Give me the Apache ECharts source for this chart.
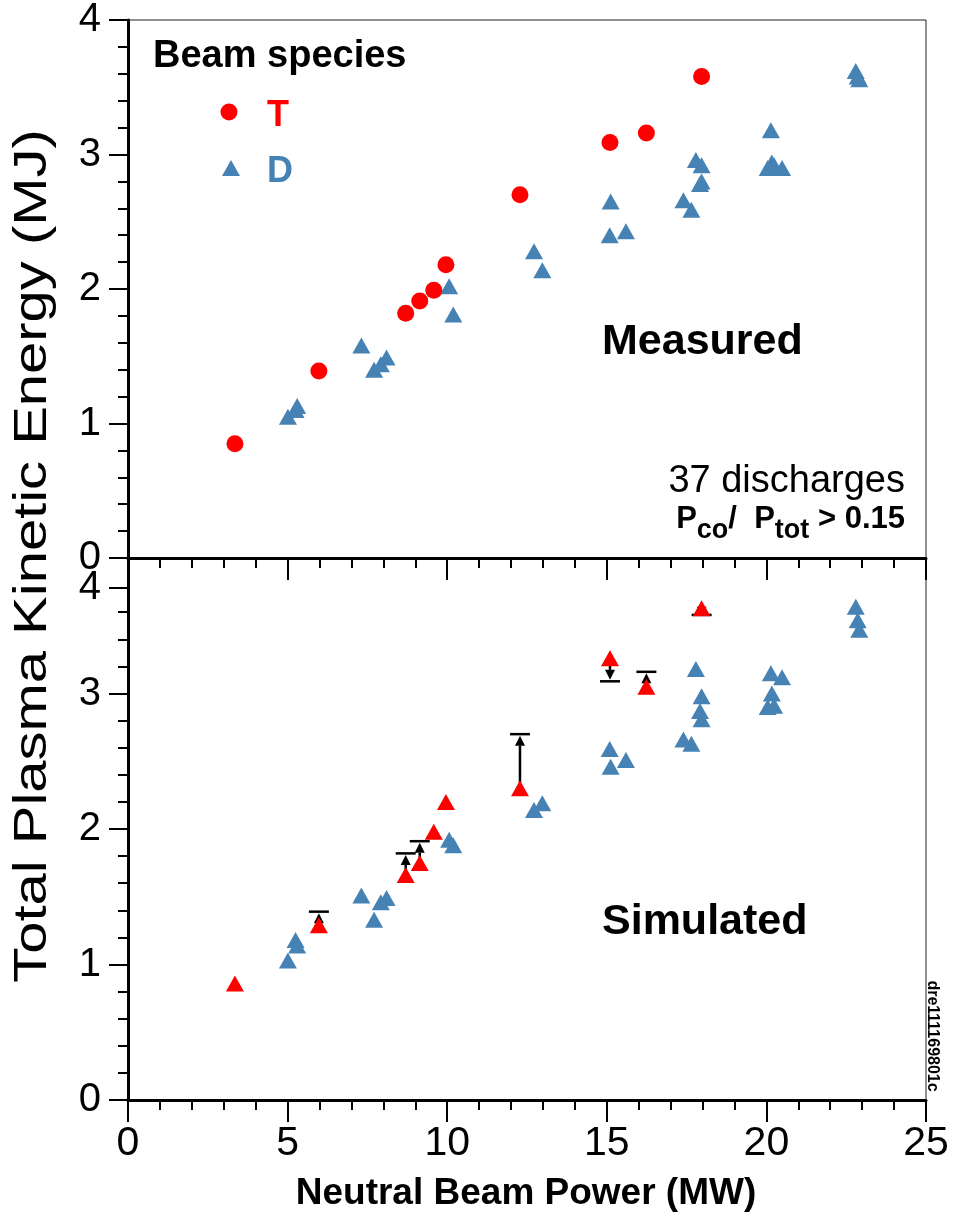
<!DOCTYPE html>
<html>
<head>
<meta charset="utf-8">
<script src="https://cdn.jsdelivr.net/npm/echarts@6/dist/echarts.min.js"></script>
<style>
  html, body { margin: 0; padding: 0; background: #fff; }
  #chart { width: 953px; height: 1221px; }
</style>
</head>
<body>
<div id="chart"></div>
<script>
// tritium beam discharges: power, measured and simulated energy
const tPower = [3.35, 5.98, 8.70, 9.14, 9.58, 9.96, 12.28, 15.10, 16.24, 17.97];
const tMeasured = [0.85, 1.39, 1.82, 1.91, 1.99, 2.18, 2.70, 3.09, 3.16, 3.58];
const tSimulated = [0.86, 1.29, 1.66, 1.75, 1.98, 2.20, 2.30, 3.26, 3.05, 3.63];

// deuterium beam discharges
const dPower = [5.01, 5.25, 5.30, 7.31, 7.71, 7.92, 8.10, 10.06, 10.19, 12.72, 12.98,
  15.09, 15.12, 15.60, 17.79, 17.97, 17.92, 17.97, 17.40, 17.65,
  20.14, 20.49, 20.17, 20.24, 20.04, 22.80, 22.86, 22.91];
const dMeasured = [1.05, 1.10, 1.13, 1.58, 1.40, 1.44, 1.49, 2.02, 1.81, 2.28, 2.14,
  2.40, 2.65, 2.43, 2.96, 2.92, 2.78, 2.80, 2.66, 2.59,
  3.18, 2.90, 2.94, 2.92, 2.90, 3.62, 3.58, 3.56];
const dSimulated = [1.03, 1.18, 1.14, 1.51, 1.33, 1.46, 1.49, 1.92, 1.88, 2.14, 2.19,
  2.59, 2.46, 2.51, 3.18, 2.98, 2.87, 2.81, 2.66, 2.63,
  3.15, 3.12, 3.00, 2.91, 2.90, 3.64, 3.54, 3.47];

// tick labels (the lower panel's "4" sits on the 3.78 tick in the original)
const lowerTickValues = [0, 1, 2, 3, 3.78];
const lowerTickLabels = ['0', '1', '2', '3', '4'];
const lowerMinorTicks = [0.2, 0.4, 0.6, 0.8, 1.2, 1.4, 1.6, 1.8, 2.2, 2.4, 2.6, 2.8, 3.2, 3.4, 3.6];

const RED = '#ff0000';
const BLUE = '#4682b4';
const FONT = '"Liberation Sans", Arial, Helvetica, sans-serif';

const chart = echarts.init(document.getElementById('chart'));

const zip = (xs, ys) => xs.map((x, i) => [x, ys[i]]);

// arrows from simulated to measured value, only where they differ
const arrowData = tPower
  .map((x, i) => [x, tSimulated[i], tMeasured[i]])
  .filter((d) => Math.abs(d[1] - d[2]) > 0.03);

const axisLineStyle = { color: '#000', width: 3 };
const tickStyle = { color: '#000', width: 2 };

const xAxisBase = {
  type: 'value',
  min: 0,
  max: 25,
  interval: 5,
  axisLine: { show: true, onZero: false, lineStyle: axisLineStyle },
  axisTick: { show: true, inside: false, length: 22, lineStyle: tickStyle },
  minorTick: { show: true, splitNumber: 5, length: 10, lineStyle: tickStyle },
  splitLine: { show: false },
};

const option = {
  animation: false,
  textStyle: { fontFamily: FONT },
  grid: [
    { left: 128, right: 27, top: 19, height: 539, show: true, borderColor: '#222', borderWidth: 1 },
    { left: 128, right: 27, top: 558, height: 542, show: true, borderColor: '#222', borderWidth: 1 },
  ],
  xAxis: [
    Object.assign({}, xAxisBase, { gridIndex: 0, axisLabel: { show: false } }),
    Object.assign({}, xAxisBase, {
      gridIndex: 1,
      axisLabel: { show: true, fontSize: 41, color: '#000', margin: 23, fontFamily: FONT },
    }),
  ],
  yAxis: [
    {
      type: 'value',
      gridIndex: 0,
      min: 0,
      max: 4,
      interval: 1,
      axisLine: { show: true, onZero: false, lineStyle: axisLineStyle },
      axisTick: { show: true, length: 19, lineStyle: tickStyle },
      minorTick: { show: true, splitNumber: 5, length: 10, lineStyle: tickStyle },
      axisLabel: { fontSize: 40, color: '#000', margin: 27, fontFamily: FONT },
      splitLine: { show: false },
    },
    {
      type: 'value',
      gridIndex: 1,
      min: 0,
      max: 4,
      axisLine: { show: true, onZero: false, lineStyle: axisLineStyle },
      axisTick: { show: true, length: 19, lineStyle: tickStyle, customValues: lowerTickValues },
      axisLabel: {
        fontSize: 40,
        color: '#000',
        margin: 27,
        fontFamily: FONT,
        customValues: lowerTickValues,
        formatter: (v) => {
          const i = lowerTickValues.findIndex((t) => Math.abs(t - v) < 1e-6);
          return i >= 0 ? lowerTickLabels[i] : '';
        },
      },
      splitLine: { show: false },
    },
    {
      type: 'value',
      gridIndex: 1,
      position: 'left',
      min: 0,
      max: 4,
      axisLine: { show: false },
      axisTick: { show: true, length: 10, lineStyle: tickStyle, customValues: lowerMinorTicks },
      axisLabel: { show: false },
      splitLine: { show: false },
    },
  ],
  series: [
    {
      name: 'D measured',
      type: 'scatter',
      xAxisIndex: 0,
      yAxisIndex: 0,
      symbol: 'triangle',
      symbolSize: [18, 16],
      itemStyle: { color: BLUE, opacity: 1 },
      data: zip(dPower, dMeasured),
    },
    {
      name: 'T measured',
      type: 'scatter',
      xAxisIndex: 0,
      yAxisIndex: 0,
      symbol: 'circle',
      symbolSize: 17,
      itemStyle: { color: RED, opacity: 1 },
      data: zip(tPower, tMeasured),
    },
    {
      name: 'D simulated',
      type: 'scatter',
      xAxisIndex: 1,
      yAxisIndex: 1,
      symbol: 'triangle',
      symbolSize: [18, 16],
      itemStyle: { color: BLUE, opacity: 1 },
      data: zip(dPower, dSimulated),
    },
    {
      name: 'T arrows',
      type: 'custom',
      xAxisIndex: 1,
      yAxisIndex: 1,
      z: 3,
      data: arrowData,
      renderItem: (params, api) => {
        const p0 = api.coord([api.value(0), api.value(1)]);
        const p1 = api.coord([api.value(0), api.value(2)]);
        const dir = p1[1] < p0[1] ? -1 : 1;
        const head = Math.min(10, Math.abs(p1[1] - p0[1]));
        const tipY = p1[1] - dir * 1.5;
        const baseY = tipY - dir * head;
        return {
          type: 'group',
          children: [
            {
              type: 'line',
              shape: { x1: p0[0], y1: p0[1], x2: p0[0], y2: baseY },
              style: { stroke: '#000', lineWidth: 2.5 },
            },
            {
              type: 'polygon',
              shape: { points: [[p1[0], tipY], [p1[0] - 5, baseY], [p1[0] + 5, baseY]] },
              style: { fill: '#000' },
            },
            {
              type: 'line',
              shape: { x1: p1[0] - 10, y1: p1[1], x2: p1[0] + 10, y2: p1[1] },
              style: { stroke: '#000', lineWidth: 2.5 },
            },
          ],
        };
      },
    },
    {
      name: 'T simulated',
      type: 'scatter',
      xAxisIndex: 1,
      yAxisIndex: 1,
      z: 4,
      symbol: 'triangle',
      symbolSize: [18, 16],
      itemStyle: { color: RED, opacity: 1 },
      data: zip(tPower, tSimulated),
    },
  ],
  graphic: [
    // y axis title, spans both panels
    {
      type: 'text',
      x: 33,
      y: 556,
      rotation: Math.PI / 2,
      scaleX: 1.26,
      style: {
        text: 'Total Plasma Kinetic Energy (MJ)',
        fontSize: 46,
        fontFamily: FONT,
        fill: '#000',
        align: 'center',
        verticalAlign: 'middle',
      },
    },
    {
      type: 'text',
      x: 526,
      y: 1194,
      style: {
        text: 'Neutral Beam Power (MW)',
        fontSize: 37,
        fontWeight: 'bold',
        fontFamily: FONT,
        fill: '#000',
        align: 'center',
        verticalAlign: 'middle',
      },
    },
    // legend
    {
      type: 'text',
      x: 153,
      y: 57,
      style: {
        text: 'Beam species',
        fontSize: 38,
        fontWeight: 'bold',
        fontFamily: FONT,
        fill: '#000',
        verticalAlign: 'middle',
      },
    },
    { type: 'circle', shape: { cx: 229, cy: 112, r: 8.5 }, style: { fill: RED } },
    {
      type: 'text',
      x: 267,
      y: 116,
      style: { text: 'T', fontSize: 36, fontWeight: 'bold', fontFamily: FONT, fill: RED, verticalAlign: 'middle' },
    },
    {
      type: 'polygon',
      shape: { points: [[231, 160], [222, 176], [240, 176]] },
      style: { fill: BLUE },
    },
    {
      type: 'text',
      x: 267,
      y: 172,
      style: { text: 'D', fontSize: 36, fontWeight: 'bold', fontFamily: FONT, fill: BLUE, verticalAlign: 'middle' },
    },
    // panel labels
    {
      type: 'text',
      x: 602,
      y: 342,
      style: { text: 'Measured', fontSize: 43, fontWeight: 'bold', fontFamily: FONT, fill: '#000', verticalAlign: 'middle' },
    },
    {
      type: 'text',
      x: 602,
      y: 922,
      style: { text: 'Simulated', fontSize: 43, fontWeight: 'bold', fontFamily: FONT, fill: '#000', verticalAlign: 'middle' },
    },
    {
      type: 'text',
      x: 905,
      y: 482,
      style: { text: '37 discharges', fontSize: 38, fontFamily: FONT, fill: '#000', align: 'right', verticalAlign: 'middle' },
    },
    {
      type: 'text',
      x: 905,
      y: 504,
      style: {
        text: '{p|P}{s|co}{p|/  P}{s|tot}{p| > 0.15}',
        align: 'right',
        verticalAlign: 'top',
        fill: '#000',
        rich: {
          p: { fontSize: 31, fontWeight: 'bold', fontFamily: FONT, verticalAlign: 'top', lineHeight: 32 },
          s: { fontSize: 27, fontWeight: 'bold', fontFamily: FONT, verticalAlign: 'top', lineHeight: 27, padding: [13, 0, 0, 0] },
        },
      },
    },
    {
      type: 'text',
      x: 932,
      y: 1036,
      rotation: -Math.PI / 2,
      style: {
        text: 'dre111169801c',
        fontSize: 16,
        fontWeight: 'bold',
        fontFamily: FONT,
        fill: '#000',
        align: 'center',
        verticalAlign: 'middle',
      },
    },
  ],
};

chart.setOption(option);
</script>
</body>
</html>
